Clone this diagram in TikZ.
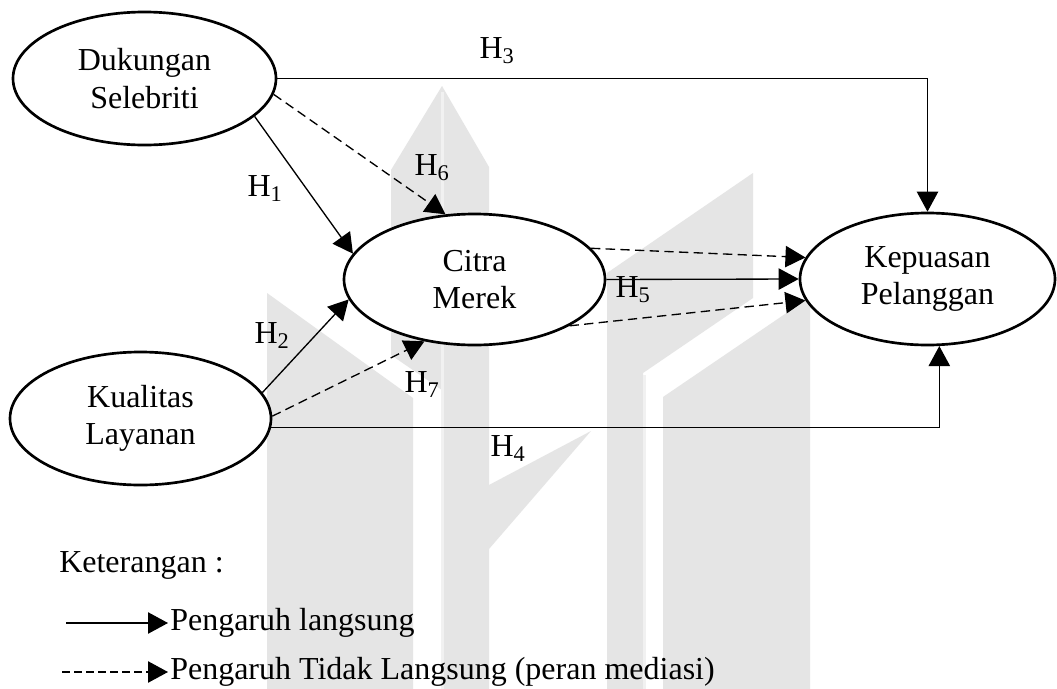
\documentclass[tikz,border=0pt]{standalone}
\usepackage{fontspec}
\setmainfont{Liberation Serif}
\usetikzlibrary{arrows.meta,shapes.geometric}
\begin{document}
\begin{tikzpicture}[x=0.75pt,y=-0.75pt,
  var/.style={ellipse, draw, line width=2pt, fill=white, inner sep=0pt,
    align=center, font=\fontsize{24}{28}\selectfont},
  lbl/.style={inner sep=0pt, font=\fontsize{24}{28}\selectfont},
  direct/.style={line width=1pt, -{Triangle[length=15pt,width=16pt]}},
  mediated/.style={direct, dash pattern=on 7pt off 4pt},
  wm/.style={fill=gray!20},
  wmlight/.style={fill=gray!11}]

\useasboundingbox[fill=white] (0,0) rectangle (1057,689);

% background emblem
\fill[wm] (267,293) -- (413,398) -- (413,689) -- (267,689) -- cycle;
\fill[wm] (391,170) -- (442,86) -- (442,390) -- (391,355) -- cycle;
\fill[wm] (442,86) -- (489,167) -- (489,689) -- (442,689) -- cycle;
\fill[wmlight] (441,92) rectangle (444,689);
\fill[wm] (489,485) -- (591,431) -- (489,549) -- cycle;
\fill[wm] (607,273) -- (753,173) -- (753,298) -- (643,373) -- (643,689) -- (607,689) -- cycle;
\fill[wmlight] (643,375) rectangle (646,689);
\fill[wm] (663,397) -- (810,297) -- (810,689) -- (663,689) -- cycle;

% variables
\node[var, minimum width=197.25pt, minimum height=99.75pt] (dk) at (144.5,78.5) {Dukungan\\Selebriti};
\node[var, minimum width=195.75pt, minimum height=98.25pt] (ct) at (474.5,279.5) {Citra\\Merek};
\node[var, minimum width=191.25pt, minimum height=99pt] (kp) at (927.5,279) {Kepuasan\\Pelanggan};
\node[var, minimum width=195.75pt, minimum height=99.75pt] (kq) at (140.5,418.5) {Kualitas\\Layanan};

% paths
\draw[direct] (dk.east) -| (kp.north);
\draw[direct] (dk.-19) -- (ct.168);
\draw[mediated] (dk.-7) -- (ct.114);
\draw[direct] (kq.12) -- (ct.189);
\draw[mediated] (kq.1) -- (ct.-129);
\draw[direct] (kq.-4) -| (kp.-80);
\draw[direct] (ct.east) -- (kp.west);
\draw[mediated] (ct.15) -- (kp.170);
\draw[mediated] (ct.-26) -- (kp.190);

% hypothesis labels
\node[lbl] (h1) at (265,189) {H\textsubscript{1}};
\node[lbl] (h2) at (272,336) {H\textsubscript{2}};
\node[lbl] (h3) at (497,51) {H\textsubscript{3}};
\node[lbl] (h4) at (508,449) {H\textsubscript{4}};
\node[lbl] (h5) at (633,290) {H\textsubscript{5}};
\node[lbl] (h6) at (432,168) {H\textsubscript{6}};
\node[lbl] (h7) at (422,385) {H\textsubscript{7}};

% legend
\node[lbl, anchor=west] (ket) at (59,565) {Keterangan :};
\coordinate (ls1) at (66,623);
\node[lbl, anchor=west, inner sep=1.5pt] (lt1) at (168,623) {Pengaruh langsung};
\draw[direct] (ls1) -- (lt1.west);
\coordinate (ls2) at (62,672);
\node[lbl, anchor=west, inner sep=1.5pt] (lt2) at (168,672) {Pengaruh Tidak Langsung (peran mediasi)};
\draw[direct, dash pattern=on 6pt off 3pt] (ls2) -- (lt2.west);
\end{tikzpicture}
\end{document}
